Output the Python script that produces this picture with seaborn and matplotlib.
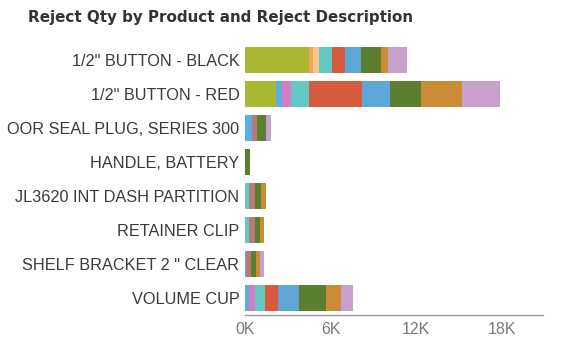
import numpy as np
import pandas as pd
import matplotlib
matplotlib.use("Agg")
import matplotlib.pyplot as plt
import seaborn as sns
from matplotlib.ticker import FuncFormatter

products = ['1/2" BUTTON - BLACK', '1/2" BUTTON - RED', 'OOR SEAL PLUG, SERIES 300',
            'HANDLE, BATTERY', 'JL3620 INT DASH PARTITION', 'RETAINER CLIP',
            'SHELF BRACKET 2 " CLEAR', 'VOLUME CUP']

descriptions = ['Short Shot', 'Flash', 'Splay', 'Sink', 'Burn', 'Contamination',
                'Warp', 'Color', 'Dimension', 'Gate', 'Scratch', 'Other']

# values (qty) per reject description, one list per description, in product order
short_shot    = [4500, 2200,    0,    0,    0,    0,    0,    0]
flash         = [ 300,    0,    0,    0,    0,    0,    0,    0]
splay         = [ 400,    0,    0,    0,    0,    0,    0,    0]
sink          = [   0,  400,  500,    0,    0,    0,  100,  300]
burn          = [   0,  600,    0,    0,    0,    0,    0,  400]
contamination = [ 900, 1300,    0,    0,  250,  300,    0,  700]
warp          = [   0,    0,  350,    0,  450,  400,  300,    0]
color         = [ 900, 3700,    0,    0,    0,    0,    0,  900]
dimension     = [1150, 1950,    0,    0,    0,    0,    0, 1500]
gate          = [1400, 2200,  600,  350,  400,  350,  400, 1900]
scratch       = [ 500, 2900,    0,    0,  350,  300,  250, 1000]
other         = [1300, 2600,  350,    0,    0,    0,  300,  900]

series = [short_shot, flash, splay, sink, burn, contamination, warp, color,
          dimension, gate, scratch, other]
colors = ['#a8b832', '#f0a45c', '#f6c48a', '#5aaee0', '#d47cc4', '#62c8c4',
          '#b87a78', '#d75a3c', '#5ea6d8', '#5b7f2e', '#cc8b35', '#c8a0cc']

tick_vals = [0, 6000, 12000, 18000]

df = pd.DataFrame(np.array(series).T, columns=descriptions)
df['Product'] = products
cum = df[descriptions].cumsum(axis=1)

sns.set_theme(style="white")
plt.rcParams['font.family'] = ['Liberation Sans', 'DejaVu Sans']

fig = plt.figure(figsize=(5.64, 3.40), dpi=100)
ax = fig.add_axes([245/564, 1-315/340, (543-245)/564, 272/340])

for i in range(len(descriptions) - 1, -1, -1):
    d = pd.DataFrame({'Product': products, 'val': cum[descriptions[i]].values})
    sns.barplot(data=d, y='Product', x='val', order=products, color=colors[i],
                saturation=1, width=0.74, ax=ax, linewidth=0)

ax.set_xlim(0, 20900)
ax.set_ylim(7.5, -0.5)
ax.set_xticks(tick_vals)
ax.xaxis.set_major_formatter(FuncFormatter(lambda v, p: f"{int(v/1000)}K"))
ax.set_xlabel('')
ax.set_ylabel('')
ax.tick_params(axis='x', length=0, labelsize=11.5, labelcolor='#7a7a7a', pad=5)
ax.tick_params(axis='y', length=0, labelsize=11.7, labelcolor='#3a3a3a', pad=4)
for s in ['top', 'right', 'left']:
    ax.spines[s].set_visible(False)
ax.spines['bottom'].set_color('#999999')
ax.spines['bottom'].set_linewidth(1)
ax.grid(False)

fig.text(28/564, 1-17.5/340, 'Reject Qty by Product and Reject Description',
         fontsize=10.9, fontweight='bold', color='#333333', va='center', ha='left',
         family=['DejaVu Sans'])

fig.savefig('out.png', dpi=100)
